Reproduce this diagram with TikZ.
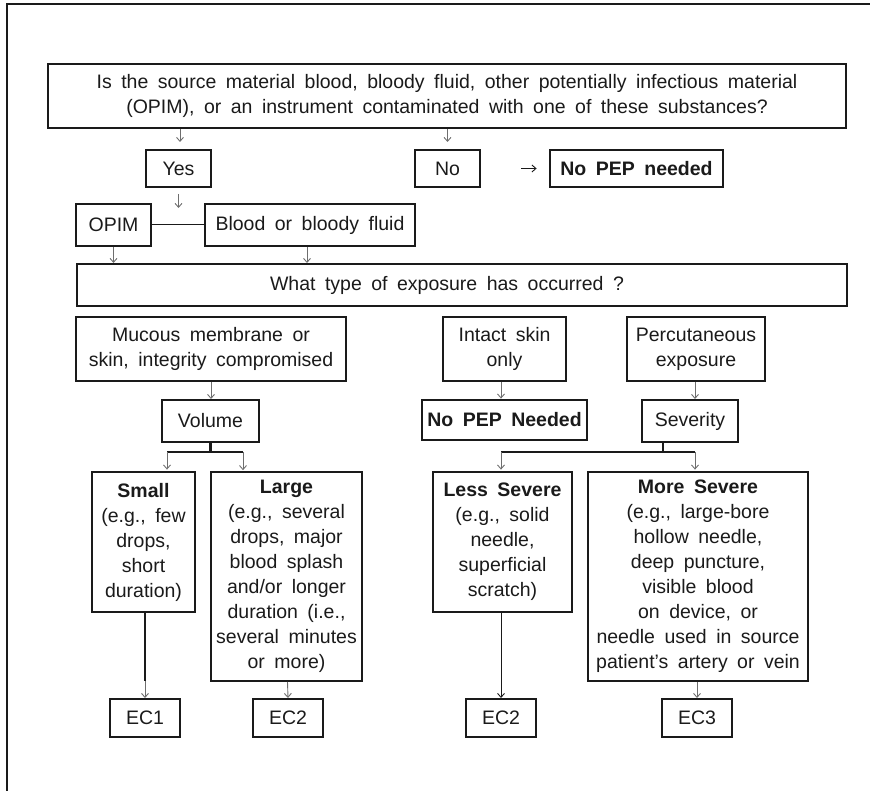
\documentclass[tikz,border=0pt]{standalone}
\usepackage{fontspec}
\setmainfont{Liberation Sans}[WordSpace=1.75]
\usetikzlibrary{arrows.meta,calc}
\definecolor{ink}{HTML}{1A1A1A}
\definecolor{arrowgray}{HTML}{6E6E6E}

\begin{document}
\begin{tikzpicture}[x=1pt,y=-1pt,
  box/.style={draw=ink, line width=2pt, text=ink, align=center, inner sep=0pt,
              font=\fontsize{19.5}{25}\selectfont},
  heavy/.style={box, line width=2.8pt},
  light/.style={box, line width=1.6pt},
  caption/.style={text=ink, inner sep=0pt, font=\fontsize{19.5}{25}\selectfont},
  arr/.style={draw=arrowgray, line width=0.9pt, -{Straight Barb[length=4pt,width=7pt]}},
  link/.style={draw=ink, line width=1pt},
  bar/.style={draw=ink, line width=2.6pt},
]
\useasboundingbox (0,0) rectangle (870,791);

% outer frame (top and left edges)
\draw[ink, line width=2.5pt] (7,791) -- (7,4) -- (872,4);

% question about the source material
\node[box, minimum width=798pt, minimum height=64pt] (top) at (447,96)
  {Is the source material blood, bloody fluid, other potentially infectious material\\
   (OPIM), or an instrument contaminated with one of these substances?};

\node[box, minimum width=65pt, minimum height=37pt] (yes) at (178.5,168.5) {Yes};
\node[box, minimum width=65pt, minimum height=37pt] (no) at (447.5,168.5) {No};
\node[heavy, minimum width=173pt, minimum height=37pt] (nopepa) at (636.5,168.5)
  {\bfseries No PEP needed};

\node[box, minimum width=75pt, minimum height=42pt] (opim) at (113.5,225) {OPIM};
\node[box, minimum width=210pt, minimum height=42pt] (blood) at (310,225) {Blood or bloody fluid};

% exposure question: the frame is wider than the centred text
\node[box, minimum width=770pt, minimum height=42pt] (what) at (462,285) {};
\node[caption] (whattext) at (447,285) {What type of exposure has occurred ?};

% exposure types
\node[box, minimum width=270pt, minimum height=64pt] (mucous) at (211,349)
  {Mucous membrane or\\skin, integrity compromised};
\node[box, minimum width=123pt, minimum height=64pt] (intact) at (504.5,349)
  {Intact skin\\only};
\node[box, minimum width=138pt, minimum height=64pt] (percut) at (696,349)
  {Percutaneous\\exposure};

\node[box, minimum width=97pt, minimum height=42pt] (volume) at (210.5,421) {Volume};
\node[heavy, minimum width=165pt, minimum height=40pt] (nopepb) at (504.5,420)
  {\bfseries No PEP Needed};
\node[box, minimum width=96pt, minimum height=42pt] (severity) at (690,421) {Severity};

% volume / severity categories
\node[heavy, minimum width=103pt, minimum height=140pt] (small) at (143.5,542)
  {\bfseries Small\\(e.g., few\\drops,\\short\\duration)};
\node[light, minimum width=151pt, minimum height=209pt] (large) at (286.5,576.5)
  {\bfseries Large\\(e.g., several\\drops, major\\blood splash\\and/or longer\\duration (i.e.,\\several minutes\\or more)};
\node[heavy, minimum width=139pt, minimum height=140pt] (less) at (502.5,542)
  {\bfseries Less Severe\\(e.g., solid\\needle,\\superficial\\scratch)};
\node[heavy, minimum width=220pt, minimum height=209pt] (more) at (698,576.5)
  {\bfseries More Severe\\(e.g., large-bore\\hollow needle,\\deep puncture,\\visible blood\\on device, or\\needle used in source\\patient’s artery or vein};

% exposure codes
\node[box, minimum width=70pt, minimum height=38pt] (econe) at (145,718) {EC1};
\node[box, minimum width=70pt, minimum height=38pt] (ectwoa) at (288,718) {EC2};
\node[box, minimum width=70pt, minimum height=38pt] (ectwob) at (501,718) {EC2};
\node[box, minimum width=70pt, minimum height=38pt] (ecthree) at (697,718) {EC3};

% connectors: source question
\draw[arr] ([xshift=1.5pt]top.south -| yes.north) -- ([xshift=1.5pt,yshift=7pt]yes.north);
\draw[arr] (top.south -| no.north) -- ([yshift=7pt]no.north);
\draw[arr, draw=ink, shorten <=40pt, shorten >=12pt] (no.east) -- (nopepa.west);
\draw[arr] ([yshift=-6pt]yes.south) -- ++(0,14);
\draw[link] (opim.east) -- (blood.west);
\draw[arr] (opim.south) -- (opim.south |- what.north);
\draw[arr] ([xshift=-3pt]blood.south) -- ([xshift=-3pt]blood.south |- what.north);

% connectors: exposure types
\draw[arr] (mucous.south) -- (mucous.south |- volume.north);
\draw[arr] ([xshift=-3.5pt]intact.south) -- ([xshift=-3.5pt]intact.south |- nopepb.north);
\draw[arr] ([xshift=-1pt]percut.south) -- ([xshift=-1pt]percut.south |- severity.north);

% volume branch
\coordinate (vbl) at (167,452);
\coordinate (vbr) at (243,452);
\draw[bar] (volume.south) -- (volume.south |- vbl);
\draw[bar] (vbl) -- (vbr);
\draw[arr] (vbl) -- ([yshift=1pt]vbl |- small.north);
\draw[arr] (vbr) -- ([yshift=1pt]vbr |- large.north);

% severity branch
\coordinate (sbl) at (501,452);
\coordinate (sbr) at (695,452);
\draw[bar] ([xshift=-27pt]severity.south) -- ([xshift=-27pt]severity.south |- sbl);
\draw[bar] (sbl) -- (sbr);
\draw[arr] (sbl) -- ([yshift=1pt]sbl |- less.north);
\draw[arr] (sbr) -- ([yshift=1pt]sbr |- more.north);

% to the exposure codes
\path ([xshift=1.5pt]small.south) ++(0,68) coordinate (smallend);
\draw[ink, line width=2.4pt] ([xshift=1.5pt]small.south) -- (smallend);
\draw[arr] (smallend) -- (econe.north);
\draw[arr] ([xshift=1pt]large.south) -- (ectwoa.north);
\draw[arr, draw=ink] ([xshift=-1.5pt]less.south) -- (ectwob.north);
\draw[arr] ([xshift=-1pt]more.south) -- (ecthree.north);
\end{tikzpicture}
\end{document}
